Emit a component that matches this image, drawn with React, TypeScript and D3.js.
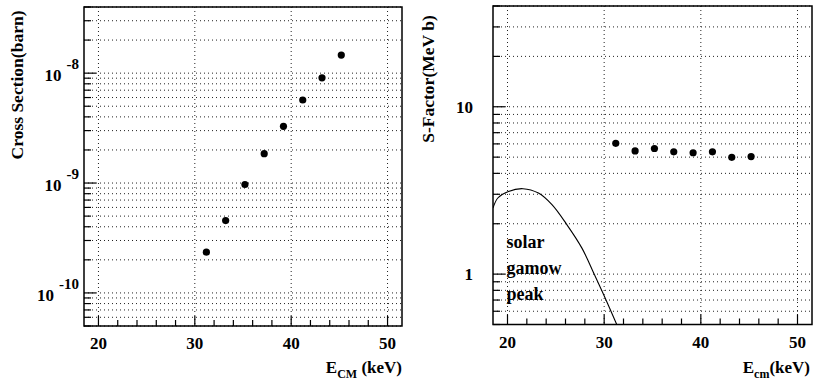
import * as d3 from "d3";

// measured energies (keV) and the two quantities
const energies = [31.2, 33.2, 35.2, 37.2, 39.2, 41.2, 43.2, 45.2];
const crossSection = [2.35e-10, 4.55e-10, 9.7e-10, 1.85e-9, 3.28e-9, 5.7e-9, 9.06e-9, 1.46e-8];
const sFactor = [6.05, 5.45, 5.63, 5.38, 5.31, 5.38, 4.99, 5.04];

// solar gamow peak curve (arbitrary units, drawn on S-factor axis)
const gamowE = [18.5, 19.0, 20.1, 21.6, 23.2, 24.6, 26.1, 27.7, 29.0, 30.1, 31.3];
const gamowS = [2.48, 2.85, 3.12, 3.24, 3.05, 2.6, 1.99, 1.43, 0.99, 0.72, 0.5];

const xTickLabels = [20, 30, 40, 50];
const leftDecades = [-10, -9, -8];
const rightDecades = [1, 10];
const gamowLabel = ["solar", "gamow", "peak"];

const font = "'Liberation Serif', 'DejaVu Serif', serif";

const W = 815;
const H = 384;

type PanelProps = {
  left: number;
  right: number;
  top: number;
  bottom: number;
  yDomain: [number, number];
  clipId: string;
  children: (x: d3.ScaleLinear<number, number>, y: d3.ScaleLogarithmic<number, number>) => any;
};

const Panel = ({ left, right, top, bottom, yDomain, clipId, children }: PanelProps) => {
  const x = d3.scaleLinear().domain([18.5, 51.5]).range([left, right]);
  const y = d3.scaleLog().domain(yDomain).range([bottom, top]);
  const minorX = d3.range(20, 51, 2);
  const yTicks = y.ticks();
  const isDecade = (v: number) => Math.abs(Math.log10(v) - Math.round(Math.log10(v))) < 1e-6;
  return (
    <g>
      <clipPath id={clipId}>
        <rect x={left} y={top} width={right - left} height={bottom - top} />
      </clipPath>
      {/* grid */}
      <g stroke="#222" strokeWidth={1} strokeDasharray="1 3">
        {yTicks.map((t, i) => (
          <line key={"gy" + i} x1={left} x2={right} y1={y(t)} y2={y(t)} />
        ))}
        {xTickLabels.map((t) => (
          <line key={"gx" + t} x1={x(t)} x2={x(t)} y1={top} y2={bottom} />
        ))}
      </g>
      {/* ticks */}
      <g stroke="#000" strokeWidth={1.2}>
        {minorX.map((t) => (
          <line key={"tx" + t} x1={x(t)} x2={x(t)} y1={bottom} y2={bottom - (t % 10 === 0 ? 10 : 6)} />
        ))}
        {yTicks.map((t, i) => (
          <line key={"ty" + i} x1={left} x2={left + (isDecade(t) ? 12 : 7)} y1={y(t)} y2={y(t)} />
        ))}
      </g>
      {xTickLabels.map((t) => (
        <text key={"lx" + t} x={x(t)} y={bottom + 23} textAnchor="middle" fontSize={17} fontWeight="bold" fontFamily={font}>
          {t}
        </text>
      ))}
      <g clipPath={`url(#${clipId})`}>{children(x, y)}</g>
      <rect x={left} y={top} width={right - left} height={bottom - top} fill="none" stroke="#000" strokeWidth={1.5} />
    </g>
  );
};

export default function App() {
  const L = { left: 84, right: 402, top: 7, bottom: 326 };
  const R = { left: 493, right: 812, top: 6, bottom: 324.5 };
  const yl = d3.scaleLog().domain([5e-11, 4e-8]).range([L.bottom, L.top]);
  const yr = d3.scaleLog().domain([0.5, 40]).range([R.bottom, R.top]);
  const xr = d3.scaleLinear().domain([18.5, 51.5]).range([R.left, R.right]);

  return (
    <svg width={W} height={H} style={{ position: "absolute", left: 0, top: 0, background: "#fff" }}>
      <rect width={W} height={H} fill="#fff" />
      <Panel {...L} yDomain={[5e-11, 4e-8]} clipId="clipL">
        {(x, y) =>
          energies.map((e, i) => <circle key={i} cx={x(e)} cy={y(crossSection[i])} r={3.6} fill="#000" />)
        }
      </Panel>
      <Panel {...R} yDomain={[0.5, 40]} clipId="clipR">
        {(x, y) => {
          const line = d3
            .line<number>()
            .x((d) => x(gamowE[d]))
            .y((d) => y(gamowS[d]))
            .curve(d3.curveCatmullRom);
          return (
            <g>
              <path d={line(d3.range(gamowE.length)) || ""} fill="none" stroke="#000" strokeWidth={1.1} />
              {energies.map((e, i) => (
                <circle key={i} cx={x(e)} cy={y(sFactor[i])} r={3.6} fill="#000" />
              ))}
            </g>
          );
        }}
      </Panel>

      {/* left y tick labels */}
      {leftDecades.map((p) => (
        <text key={p} x={79} y={yl(Math.pow(10, p)) + 8} textAnchor="end" fontSize={17} fontWeight="bold" fontFamily={font}>
          10
          <tspan dx={5} dy={-12} fontSize={15}>{`-${Math.abs(p)}`}</tspan>
        </text>
      ))}
      {/* right y tick labels */}
      {rightDecades.map((v) => (
        <text key={v} x={473} y={yr(v) + 6} textAnchor="end" fontSize={17} fontWeight="bold" fontFamily={font}>
          {v}
        </text>
      ))}

      {/* axis titles */}
      <text transform="translate(23,85) rotate(-90)" textAnchor="middle" fontSize={17.5} fontWeight="bold" fontFamily={font}>
        Cross Section(barn)
      </text>
      <text transform="translate(434,79) rotate(-90)" textAnchor="middle" fontSize={17.5} fontWeight="bold" fontFamily={font}>
        S-Factor(MeV b)
      </text>
      <text x={402} y={373} textAnchor="end" fontSize={17} fontWeight="bold" fontFamily={font}>
        E<tspan fontSize={12} dy={5}>CM</tspan>
        <tspan dy={-5}> (keV)</tspan>
      </text>
      <text x={810} y={373} textAnchor="end" fontSize={17} fontWeight="bold" fontFamily={font}>
        E<tspan fontSize={12} dy={5}>cm</tspan>
        <tspan dy={-5}>(keV)</tspan>
      </text>

      {/* gamow peak annotation */}
      {gamowLabel.map((s, i) => (
        <text key={s} x={xr(19.9)} y={248 + i * 26} fontSize={18} fontWeight="bold" fontFamily={font}>
          {s}
        </text>
      ))}
    </svg>
  );
}
